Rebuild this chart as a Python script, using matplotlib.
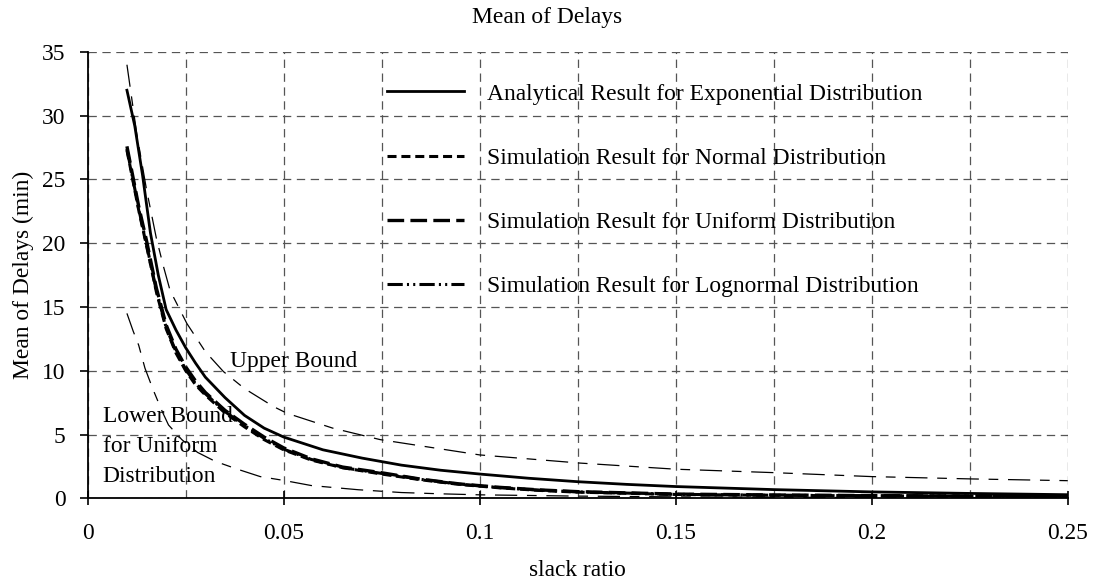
import numpy as np
import matplotlib
matplotlib.use("Agg")
import matplotlib.pyplot as plt
from matplotlib.ticker import MultipleLocator

plt.rcParams['font.family'] = ['Liberation Serif', 'DejaVu Serif']
plt.rcParams['lines.scale_dashes'] = False

# analytical mean delay, exponential service times
x_exp = [0.010, 0.012, 0.014, 0.016, 0.018, 0.020, 0.0225, 0.025, 0.0275, 0.030,
         0.035, 0.040, 0.045, 0.050, 0.060, 0.070, 0.080, 0.090, 0.100, 0.1125,
         0.125, 0.1375, 0.150, 0.175, 0.200, 0.225, 0.250]
y_exp = [32.0, 29.2, 25.3, 20.8, 17.5, 14.8, 13.2, 11.8, 10.6, 9.5,
         7.9, 6.5, 5.5, 4.8, 3.8, 3.15, 2.6, 2.2, 1.9, 1.57,
         1.3, 1.09, 0.92, 0.68, 0.5, 0.38, 0.28]

# simulation runs
x_sim = [0.010, 0.0116, 0.013, 0.015, 0.0175, 0.020, 0.0225, 0.025, 0.0275, 0.030,
         0.035, 0.040, 0.045, 0.050, 0.057, 0.065, 0.075, 0.085, 0.095, 0.105,
         0.115, 0.125, 0.150, 0.175, 0.200, 0.225, 0.250]
y_normal = [27.3, 24.8, 22.6, 19.8, 16.2, 13.3, 11.4, 10.0, 8.9, 8.1,
            6.7, 5.6, 4.6, 3.8, 3.0, 2.4, 1.9, 1.45, 1.08, 0.82,
            0.62, 0.48, 0.30, 0.23, 0.19, 0.16, 0.14]
y_uniform = [27.6, 25.1, 22.9, 20.2, 16.5, 13.6, 11.7, 10.3, 9.2, 8.3,
             6.9, 5.8, 4.8, 3.95, 3.1, 2.45, 2.0, 1.5, 1.12, 0.86,
             0.66, 0.52, 0.33, 0.26, 0.21, 0.18, 0.16]
y_lognormal = [27.4, 24.9, 22.7, 19.9, 16.3, 13.4, 11.5, 10.1, 9.0, 8.2,
               6.8, 5.7, 4.7, 3.85, 3.05, 2.4, 1.95, 1.48, 1.1, 0.84,
               0.64, 0.5, 0.31, 0.24, 0.2, 0.17, 0.15]

# bounds
x_upper = [0.010, 0.0125, 0.015, 0.0175, 0.0193, 0.021, 0.0253, 0.030, 0.0346, 0.040,
           0.0474, 0.0508, 0.0625, 0.0746, 0.100, 0.1256, 0.150, 0.175, 0.200, 0.225, 0.250]
y_upper = [34.0, 28.6, 24.2, 20.4, 18.2, 16.3, 13.7, 11.5, 9.94, 8.6,
           7.19, 6.67, 5.5, 4.6, 3.4, 2.76, 2.28, 2.01, 1.70, 1.52, 1.38]

x_lower = [0.010, 0.0116, 0.013, 0.0146, 0.0167, 0.019, 0.0206, 0.024, 0.028, 0.0325,
           0.038, 0.044, 0.050, 0.057, 0.069, 0.080, 0.090, 0.100, 0.125, 0.150, 0.200, 0.250]
y_lower = [14.5, 13.1, 12.0, 10.2, 8.5, 6.8, 5.75, 4.6, 3.6, 2.9,
           2.3, 1.7, 1.4, 1.0, 0.67, 0.45, 0.35, 0.27, 0.17, 0.11, 0.06, 0.04]

fs = 16.9
fig = plt.figure(figsize=(10.94, 5.86), dpi=100)
ax = fig.add_axes([0.0802, 0.1497, 0.8958, 0.7616])

ax.plot(x_exp, y_exp, color='black', lw=2.0, label='Analytical Result for Exponential Distribution')
ax.plot(x_sim, y_normal, color='black', lw=2.2, linestyle=(0, (6.5, 3.5)),
        label='Simulation Result for Normal Distribution')
ax.plot(x_sim, y_uniform, color='black', lw=2.4, linestyle=(0, (12, 4.5)),
        label='Simulation Result for Uniform Distribution')
ax.plot(x_sim, y_lognormal, color='black', lw=2.2, linestyle=(0, (11, 3, 1.5, 3, 1.5, 3)),
        label='Simulation Result for Lognormal Distribution')
ax.plot(x_upper, y_upper, color='black', lw=0.9, linestyle=(0, (16, 7, 7, 7)))
ax.plot(x_lower, y_lower, color='black', lw=0.9, linestyle=(0, (16, 7, 7, 7)))

ax.text(0.0363, 10.7, 'Upper Bound', fontsize=fs, ha='left', va='center')
ax.text(0.0038, 4.05, 'Lower Bound\nfor Uniform\nDistribution', fontsize=fs,
        ha='left', va='center', linespacing=1.55)

ax.set_xlim(0, 0.25)
ax.set_ylim(0, 35)
ax.xaxis.set_minor_locator(MultipleLocator(0.025))
ax.yaxis.set_major_locator(MultipleLocator(5))
ax.set_xticks([0, 0.05, 0.1, 0.15, 0.2, 0.25])
ax.set_xticklabels(['0', '0.05', '0.1', '0.15', '0.2', '0.25'])

ax.grid(True, which='both', color='#555555', linestyle=(0, (6, 4)), lw=0.9)
ax.set_axisbelow(True)
ax.spines['top'].set_visible(False)
ax.spines['right'].set_visible(False)
ax.spines['left'].set_linewidth(1.3)
ax.spines['bottom'].set_linewidth(1.3)
ax.tick_params(axis='y', direction='out', length=6, width=1.2, pad=10, labelsize=fs)
ax.tick_params(axis='x', which='major', direction='inout', length=10, width=1.2, pad=13, labelsize=fs)
ax.tick_params(axis='x', which='minor', length=0)

ax.set_xlabel('slack ratio', fontsize=fs, labelpad=11)
ax.set_ylabel('Mean of Delays (min)', fontsize=fs, labelpad=6)
fig.text(0.5, 1 - 17 / 586, 'Mean of Delays', fontsize=fs, ha='center', va='center')

ax.legend(loc='upper left', bbox_to_anchor=(0.305, 0.93), frameon=False, fontsize=fs,
          handlelength=3.3, handletextpad=0.97, labelspacing=1.82, borderpad=0, borderaxespad=0)

fig.savefig('out.png', dpi=100)
